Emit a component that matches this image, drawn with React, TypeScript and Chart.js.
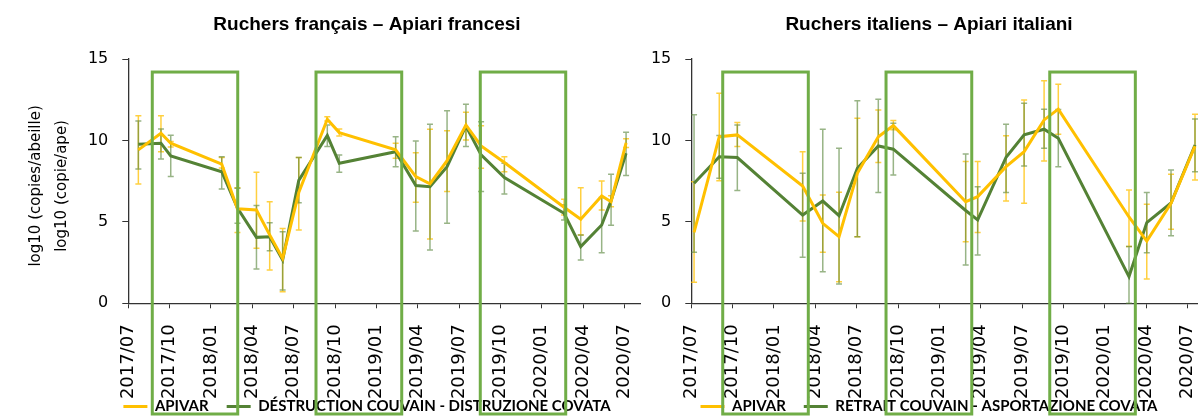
import React, { useEffect, useRef } from 'react';
import { Chart, registerables } from 'chart.js';

Chart.register(...registerables);

// Axis ticks (months since 2017/07)
const tickMonths = [0, 3, 6, 9, 12, 15, 18, 21, 24, 27, 30, 33, 36];
const tickLabels = ['2017/07', '2017/10', '2018/01', '2018/04', '2018/07', '2018/10', '2019/01', '2019/04', '2019/07', '2019/10', '2020/01', '2020/04', '2020/07'];

// French apiaries
const frMonths = [0.73, 2.37, 3.08, 6.78, 7.92, 9.3, 10.26, 11.2, 12.37, 14.44, 15.31, 19.4, 20.86, 21.89, 23.13, 24.5, 25.6, 27.29, 31.62, 32.83, 34.35, 35.03, 36.12];
const frApivar = [9.42, 10.44, 9.83, 8.54, 5.8, 5.73, 4.2, 2.75, 6.8, 11.3, 10.48, 9.42, 7.78, 7.33, 8.76, 10.95, 9.66, 8.64, 5.9, 5.16, 6.59, 6.24, 9.85];
const frApivarLow = [7.33, 9.31, 9.6, 8.3, 4.34, 3.38, 2.05, 0.71, 4.5, 11.2, 10.27, 8.9, 6.2, 3.95, 6.86, 10.03, 8.29, 8.08, 5.42, 4.2, 5.73, 5.93, 9.56];
const frApivarHigh = [11.52, 11.52, 9.93, 8.95, 7.1, 8.05, 6.24, 4.6, 8.95, 11.46, 10.7, 9.83, 9.25, 10.69, 10.6, 11.73, 10.9, 9.0, 6.39, 7.1, 7.51, 6.6, 10.1];
const frBrood = [9.77, 9.83, 9.05, 8.08, 5.85, 4.05, 4.09, 2.66, 7.55, 10.3, 8.6, 9.31, 7.23, 7.16, 8.39, 10.89, 9.11, 7.72, 5.53, 3.48, 4.81, 6.3, 9.21];
const frBroodLow = [8.25, 8.86, 7.78, 7.02, 4.91, 2.1, 3.23, 0.82, 6.18, 9.62, 8.05, 8.39, 4.44, 3.27, 4.91, 9.62, 6.86, 6.71, 5.12, 2.66, 3.11, 4.79, 7.84];
const frBroodHigh = [11.2, 10.7, 10.32, 9.0, 7.06, 6.0, 4.95, 4.4, 8.95, 10.95, 9.1, 10.23, 9.97, 11.0, 11.83, 12.22, 11.15, 8.6, 6.04, 4.2, 6.5, 7.92, 10.5];
const frBoxStart = [1.74, 13.62, 25.54];
const frBoxEnd = [7.94, 19.84, 31.74];

// Italian apiaries
const itMonths = [0.2, 2.03, 3.34, 8.08, 9.54, 10.72, 12.05, 13.57, 14.66, 19.91, 20.78, 22.84, 24.15, 25.6, 26.63, 31.76, 33.05, 34.81, 36.55];
const itApivar = [4.36, 10.23, 10.34, 7.2, 4.91, 4.09, 7.98, 10.23, 10.91, 6.24, 6.55, 8.39, 9.31, 11.26, 11.92, 5.3, 3.82, 6.14, 9.65];
const itApivarLow = [1.29, 7.53, 9.62, 5.05, 3.13, 1.33, 4.09, 8.64, 10.65, 3.78, 4.34, 6.28, 6.14, 8.74, 10.38, 3.48, 1.49, 4.54, 7.57];
const itApivarHigh = [7.47, 12.9, 11.1, 9.31, 6.65, 6.82, 11.36, 11.87, 11.22, 8.7, 8.7, 10.28, 12.49, 13.67, 13.45, 6.96, 6.08, 7.92, 11.6];
const itBrood = [7.37, 9.0, 8.95, 5.42, 6.28, 5.38, 8.29, 9.66, 9.46, 5.7, 5.12, 8.97, 10.34, 10.69, 10.13, 1.64, 4.96, 6.16, 9.72];
const itBroodLow = [3.13, 7.68, 6.92, 2.82, 1.94, 1.19, 4.09, 6.8, 7.88, 2.35, 2.97, 6.8, 8.43, 9.52, 8.39, 0, 3.11, 4.15, 8.08];
const itBroodHigh = [11.57, 10.3, 10.95, 7.98, 10.69, 9.52, 12.43, 12.53, 11.06, 9.17, 7.16, 11.0, 12.28, 11.92, 11.9, 3.48, 6.8, 8.19, 11.32];
const itBoxStart = [2.28, 14.13, 26.01];
const itBoxEnd = [8.49, 20.35, 32.22];

const boxTopValue = 14.2;

const YELLOW = '#FFC000';
const GREEN = '#548235';
const BOX_GREEN = '#70AD47';

const errorBarPlugin = {
  id: 'errorBars',
  beforeDatasetsDraw(chart: any) {
    const { ctx } = chart;
    const x = chart.scales.x;
    const y = chart.scales.y;
    const eb = chart.options.plugins.errorBars || {};
    (eb.sets || []).forEach((set: any) => {
      ctx.save();
      ctx.strokeStyle = set.color;
      ctx.lineWidth = 1.5;
      set.xs.forEach((xv: number, j: number) => {
        const px = x.getPixelForValue(xv);
        const yl = y.getPixelForValue(set.low[j]);
        const yh = y.getPixelForValue(set.high[j]);
        ctx.beginPath();
        ctx.moveTo(px, yl);
        ctx.lineTo(px, yh);
        ctx.moveTo(px - 3, yl);
        ctx.lineTo(px + 3, yl);
        ctx.moveTo(px - 3, yh);
        ctx.lineTo(px + 3, yh);
        ctx.stroke();
      });
      ctx.restore();
    });
  },
};

const periodBoxPlugin = {
  id: 'periodBoxes',
  afterDatasetsDraw(chart: any) {
    const opts = chart.options.plugins.periodBoxes;
    if (!opts) return;
    const { ctx } = chart;
    const x = chart.scales.x;
    const y = chart.scales.y;
    const top = y.getPixelForValue(opts.top);
    const bottom = chart.height - 3;
    ctx.save();
    ctx.strokeStyle = opts.color;
    ctx.lineWidth = 3;
    opts.start.forEach((s: number, i: number) => {
      const x1 = x.getPixelForValue(s);
      const x2 = x.getPixelForValue(opts.end[i]);
      ctx.strokeRect(x1, top, x2 - x1, bottom - top);
    });
    ctx.restore();
  },
};

function pts(xs: number[], ys: number[]) {
  return xs.map((v, i) => ({ x: v, y: ys[i] }));
}

function makeConfig(p: any) {
  return {
    type: 'line',
    data: {
      datasets: [
        {
          label: 'APIVAR',
          data: pts(p.months, p.apivar),
          borderColor: YELLOW,
          backgroundColor: YELLOW,
          borderWidth: 3,
          pointRadius: 0,
          tension: 0,
        },
        {
          label: p.broodLabel,
          data: pts(p.months, p.brood),
          borderColor: GREEN,
          backgroundColor: GREEN,
          borderWidth: 3,
          pointRadius: 0,
          tension: 0,
        },
      ],
    },
    options: {
      responsive: false,
      animation: false,
      events: [],
      layout: { padding: { left: 0, right: 0, top: 0, bottom: -7 } },
      plugins: {
        tooltip: { enabled: false },
        title: {
          display: true,
          text: p.title,
          color: '#000',
          font: { family: 'Liberation Sans', weight: 'bold', size: 19 },
          padding: { top: 13.6, bottom: 22.6 },
        },
        legend: {
          position: 'bottom',
          labels: {
            usePointStyle: true,
            pointStyle: 'line',
            pointStyleWidth: 24,
            color: '#000',
            padding: 18,
            font: { family: 'Lato', weight: 'bold', size: 15 },
          },
        },
        errorBars: {
          sets: [
            { xs: p.months, low: p.apivarLow, high: p.apivarHigh, color: 'rgba(255,192,0,0.75)' },
            { xs: p.months, low: p.broodLow, high: p.broodHigh, color: 'rgba(84,130,53,0.6)' },
          ],
        },
        periodBoxes: { start: p.boxStart, end: p.boxEnd, top: boxTopValue, color: BOX_GREEN },
      },
      scales: {
        x: {
          type: 'linear',
          min: 0,
          max: 37.13,
          afterBuildTicks: (s: any) => {
            s.ticks = tickMonths.map((v) => ({ value: v }));
          },
          afterFit: (s: any) => {
            s.height = 77.7;
            // let the rotated date labels run below the axis box, as in the reference
            s._computeLabelArea = () => undefined;
          },
          ticks: {
            autoSkip: false,
            maxRotation: 90,
            minRotation: 90,
            padding: 16,
            color: '#000',
            font: { family: 'DejaVu Sans', size: 18 },
            callback: (v: any) => {
              const i = tickMonths.indexOf(v);
              return i >= 0 ? tickLabels[i] : '';
            },
          },
          grid: { display: true, drawOnChartArea: false, drawTicks: true, tickLength: 5, color: '#333' },
          border: { display: true, color: '#333', width: 1.3 },
        },
        y: {
          min: 0,
          max: 15,
          afterFit: (s: any) => {
            s.width = p.yWidth;
          },
          ticks: {
            stepSize: 5,
            padding: 14,
            color: '#000',
            font: { family: 'DejaVu Sans', size: 16 },
          },
          title: {
            display: !!p.yTitle,
            text: p.yTitle || '',
            color: '#000',
            font: { family: 'DejaVu Sans', size: 15, lineHeight: 1.7 },
            padding: { top: 23.75, bottom: 0 },
          },
          grid: { display: true, drawOnChartArea: false, drawTicks: true, tickLength: 6, color: '#333' },
          border: { display: true, color: '#333', width: 1.3 },
        },
        yR: {
          position: 'right',
          display: true,
          min: 0,
          max: 15,
          afterFit: (s: any) => {
            s.width = p.rightWidth;
          },
          ticks: { display: false },
          grid: { display: false },
          border: { display: false },
        },
      },
    },
    plugins: [errorBarPlugin, periodBoxPlugin],
  };
}

function Panel(p: any) {
  const ref = useRef<HTMLCanvasElement | null>(null);
  useEffect(() => {
    if (!ref.current) return;
    const chart = new Chart(ref.current, makeConfig(p) as any);
    return () => chart.destroy();
  }, []);
  return (
    <div style={{ position: 'absolute', left: p.left, top: 0, width: p.width, height: 417 }}>
      <canvas ref={ref} width={p.width} height={417} style={{ width: p.width, height: 417, display: 'block' }} />
    </div>
  );
}

export default function App() {
  return (
    <div style={{ position: 'absolute', left: 0, top: 0, width: 1198, height: 417, overflow: 'hidden', background: '#fff' }}>
      <Panel
        left={0}
        width={734}
        title="Ruchers français – Apiari francesi"
        broodLabel="DÉSTRUCTION COUVAIN - DISTRUZIONE COVATA"
        months={frMonths}
        apivar={frApivar}
        apivarLow={frApivarLow}
        apivarHigh={frApivarHigh}
        brood={frBrood}
        broodLow={frBroodLow}
        broodHigh={frBroodHigh}
        boxStart={frBoxStart}
        boxEnd={frBoxEnd}
        yTitle={['log10 (copies/abeille)  ', 'log10 (copie/ape)  ']}
        yWidth={128.3}
        rightWidth={94}
      />
      <Panel
        left={620}
        width={618}
        title="Ruchers italiens – Apiari italiani"
        broodLabel="RETRAIT COUVAIN - ASPORTAZIONE COVATA"
        months={itMonths}
        apivar={itApivar}
        apivarLow={itApivarLow}
        apivarHigh={itApivarHigh}
        brood={itBrood}
        broodLow={itBroodLow}
        broodHigh={itBroodHigh}
        boxStart={itBoxStart}
        boxEnd={itBoxEnd}
        yTitle={null}
        yWidth={71.3}
        rightWidth={35}
      />
    </div>
  );
}
